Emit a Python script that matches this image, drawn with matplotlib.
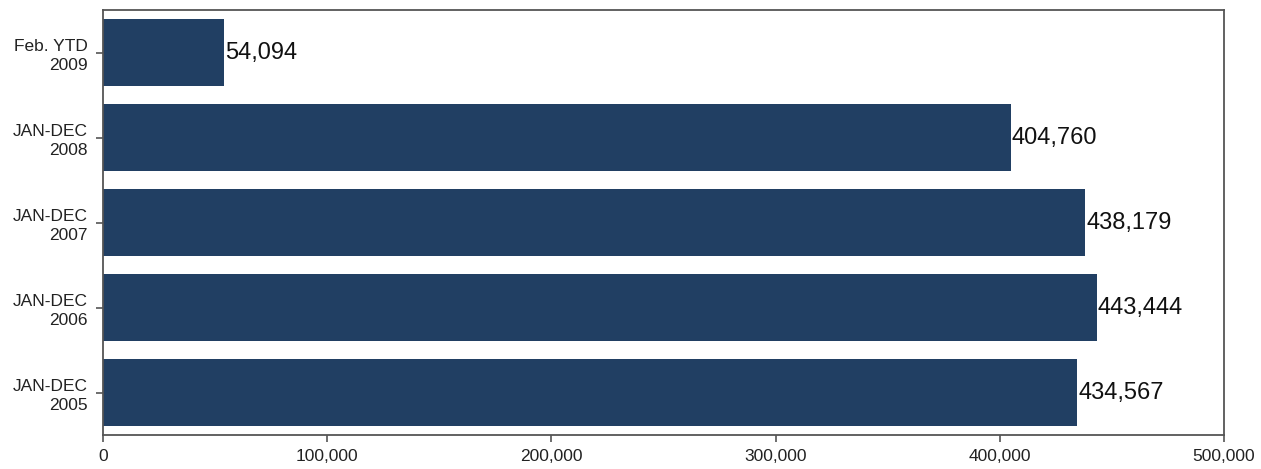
import matplotlib.pyplot as plt

plt.rcParams['font.family'] = ['Liberation Sans', 'DejaVu Sans']

categories = ['Feb. YTD\n2009', 'JAN-DEC\n2008', 'JAN-DEC\n2007', 'JAN-DEC\n2006', 'JAN-DEC\n2005']
values = [54094, 404760, 438179, 443444, 434567]
xticks = [0, 100000, 200000, 300000, 400000, 500000]

BAR_COLOR = '#213f63'
EDGE = '#555555'

fig = plt.figure(figsize=(12.61, 4.69), dpi=100)
ax = fig.add_axes([0.0817, 0.0725, 0.8890, 0.9060])

pos = list(range(len(categories)))
ax.barh(pos, values, height=0.78, color=BAR_COLOR)

for y, v in zip(pos, values):
    ax.annotate(f'{v:,}', (v, y), xytext=(0.5, 0), textcoords='offset points',
                ha='left', va='center', fontsize=17, color='#111111')

ax.set_xlim(0, 500000)
ax.set_ylim(len(categories) - 0.5, -0.5)
ax.set_yticks(pos)
ax.set_yticklabels(categories, fontsize=12.5, ha='right', linespacing=1.3, color='#222222')
ax.set_xticks(xticks)
ax.set_xticklabels([f'{t:,}' for t in xticks], fontsize=12.5, color='#222222')

for s in ax.spines.values():
    s.set_color(EDGE)
    s.set_linewidth(1.3)
ax.tick_params(axis='both', direction='out', length=5, width=1.2, color=EDGE)
ax.tick_params(axis='y', pad=6)
ax.tick_params(axis='x', pad=5)

fig.savefig('out.png', dpi=100)
